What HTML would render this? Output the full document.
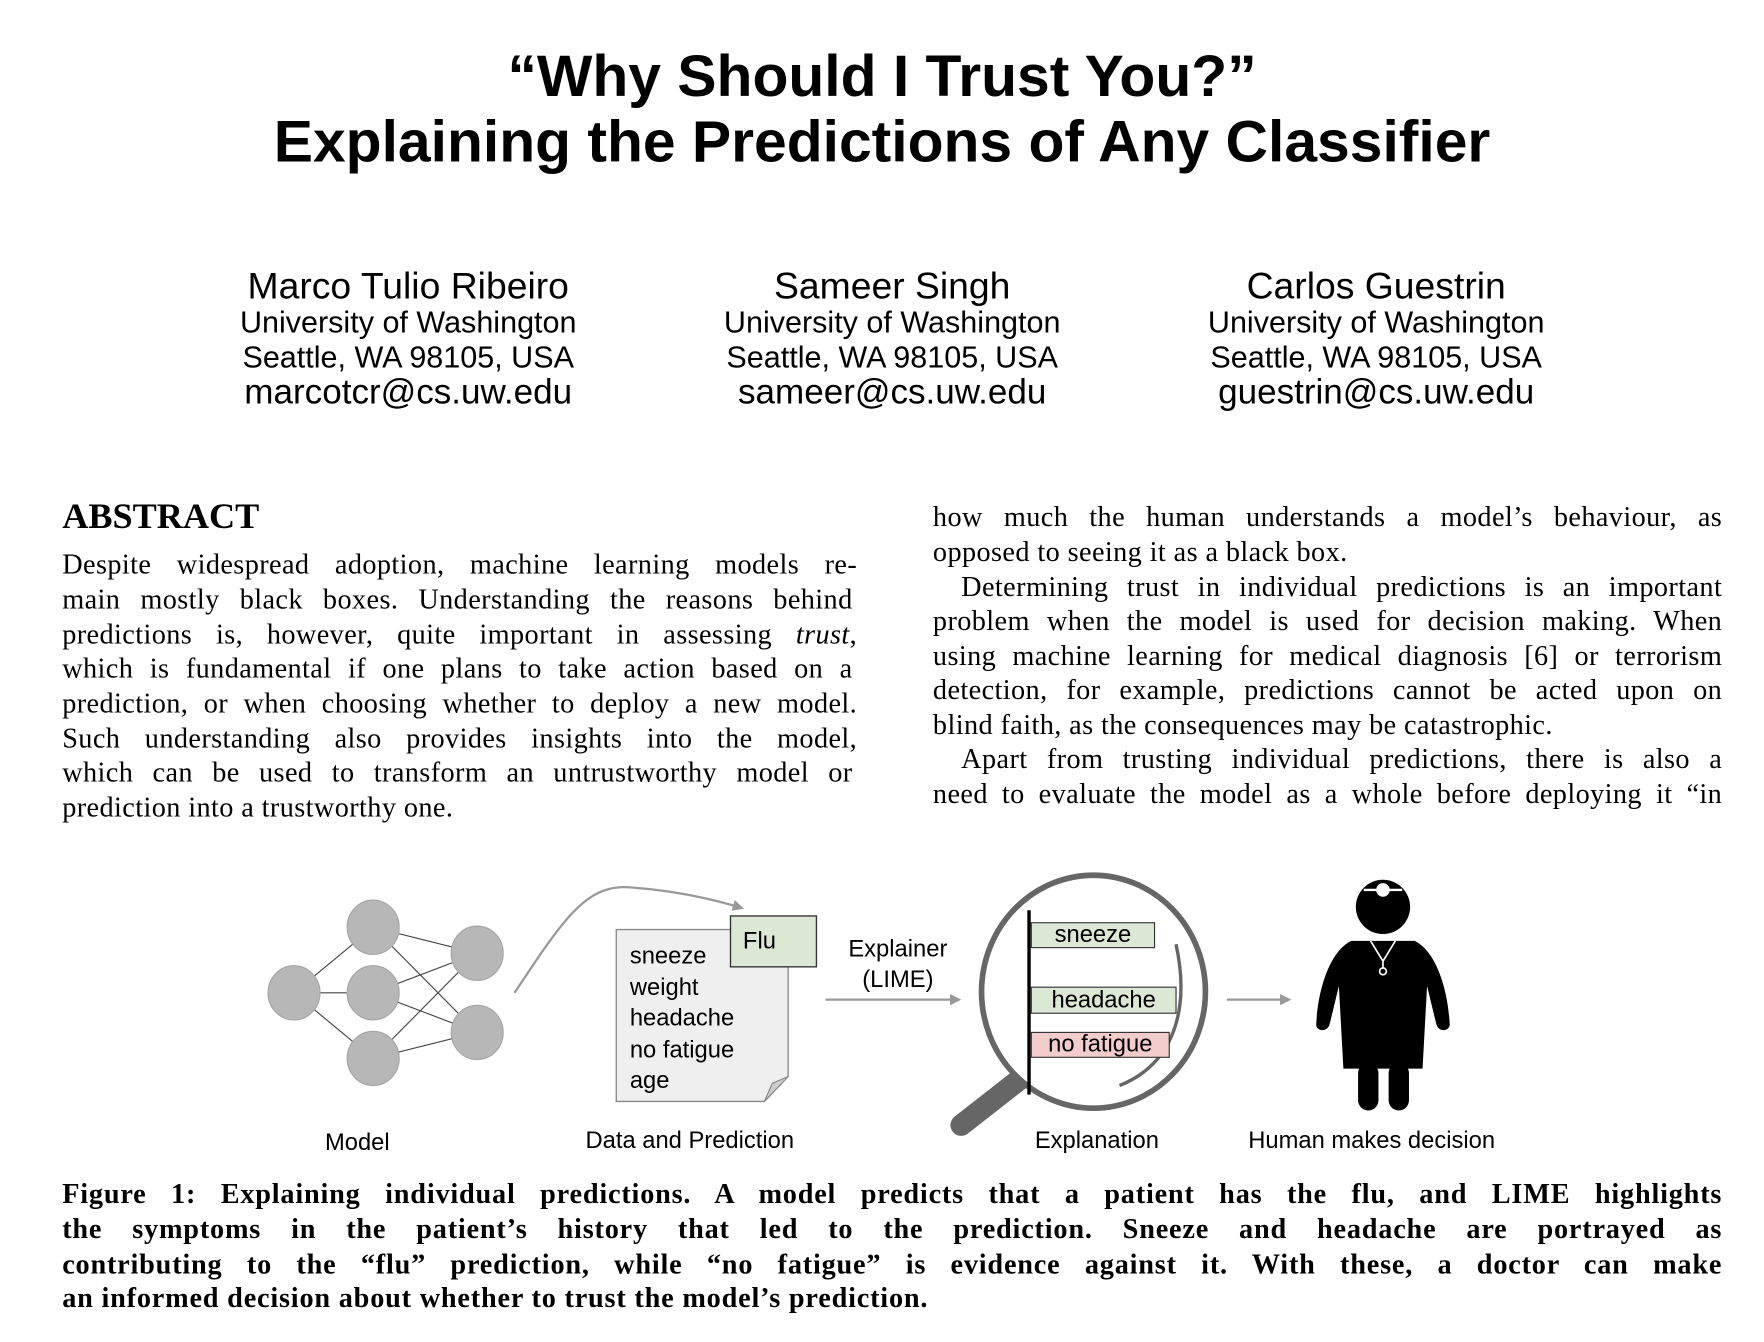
<!DOCTYPE html>
<html><head><meta charset="utf-8">
<style>
html,body{margin:0;padding:0;background:#fff;}
body{width:1764px;height:1342px;overflow:hidden;position:relative;}
#w{position:absolute;left:0;top:0;width:1560px;height:1187px;transform:scale(1.1308);transform-origin:0 0;}
.a{position:absolute;white-space:nowrap;}
.t{font-family:"Liberation Sans",sans-serif;font-weight:bold;font-size:52px;width:1560px;text-align:center;left:0;color:#000;}
.au{font-family:"Liberation Sans",sans-serif;text-align:center;width:420px;}
.ln{position:absolute;font-family:"Liberation Serif",serif;font-size:25px;letter-spacing:0.35px;text-align:justify;text-align-last:justify;white-space:nowrap;}
.sl{font-family:"Liberation Sans",sans-serif;font-size:21px;}
.cap{font-family:"Liberation Serif",serif;font-weight:bold;font-size:25px;letter-spacing:0.7px;}
</style></head><body><div id="w">
<div class="a t" style="top:38px;">“Why Should I Trust You?”</div>
<div class="a t" style="top:96px;">Explaining the Predictions of Any Classifier</div>

<div class="a au" style="left:151px;top:236px;"><div style="font-size:33px;line-height:34px">Marco Tulio Ribeiro</div><div style="font-size:27px;line-height:31px">University of Washington<br>Seattle, WA 98105, USA</div><div style="font-size:31px;line-height:30px">marcotcr@cs.uw.edu</div></div>
<div class="a au" style="left:579px;top:236px;"><div style="font-size:33px;line-height:34px">Sameer Singh</div><div style="font-size:27px;line-height:31px">University of Washington<br>Seattle, WA 98105, USA</div><div style="font-size:31px;line-height:30px">sameer@cs.uw.edu</div></div>
<div class="a au" style="left:1007px;top:236px;"><div style="font-size:33px;line-height:34px">Carlos Guestrin</div><div style="font-size:27px;line-height:31px">University of Washington<br>Seattle, WA 98105, USA</div><div style="font-size:31px;line-height:30px">guestrin@cs.uw.edu</div></div>

<div class="a" style="left:55px;top:438px;font-family:'Liberation Serif',serif;font-weight:bold;font-size:32px;">ABSTRACT</div>
<div style="position:absolute;left:0;top:0;width:800px;height:728px;overflow:hidden;">
<div class="ln" style="left:55px;top:486px;width:703px;">Despite widespread adoption, machine learning models re-</div>
<div class="ln" style="left:55px;top:517px;width:699px;">main mostly black boxes. Understanding the reasons behind</div>
<div class="ln" style="left:55px;top:548px;width:703px;">predictions is, however, quite important in assessing <i>trust</i>,</div>
<div class="ln" style="left:55px;top:578px;width:699px;">which is fundamental if one plans to take action based on a</div>
<div class="ln" style="left:55px;top:609px;width:703px;">prediction, or when choosing whether to deploy a new model.</div>
<div class="ln" style="left:55px;top:640px;width:703px;">Such understanding also provides insights into the model,</div>
<div class="ln" style="left:55px;top:670px;width:699px;">which can be used to transform an untrustworthy model or</div>
<div class="ln" style="left:55px;top:701px;width:auto;text-align:left;">prediction into a trustworthy one.</div>
</div>
<div style="position:absolute;left:0;top:0;width:1560px;height:722px;overflow:hidden;">
<div class="ln" style="left:825px;top:444px;width:698px;">how much the human understands a model’s behaviour, as</div>
<div class="ln" style="left:825px;top:475px;width:auto;text-align:left;">opposed to seeing it as a black box.</div>
<div class="ln" style="left:850px;top:506px;width:673px;">Determining trust in individual predictions is an important</div>
<div class="ln" style="left:825px;top:536px;width:698px;">problem when the model is used for decision making. When</div>
<div class="ln" style="left:825px;top:567px;width:698px;">using machine learning for medical diagnosis [6] or terrorism</div>
<div class="ln" style="left:825px;top:597px;width:698px;">detection, for example, predictions cannot be acted upon on</div>
<div class="ln" style="left:825px;top:628px;width:auto;text-align:left;">blind faith, as the consequences may be catastrophic.</div>
<div class="ln" style="left:850px;top:658px;width:673px;">Apart from trusting individual predictions, there is also a</div>
<div class="ln" style="left:825px;top:689px;width:698px;">need to evaluate the model as a whole before deploying it “in</div>
</div>

<svg style="position:absolute;left:0;top:0" width="1560" height="1187">
<defs><marker id="ar" markerWidth="10" markerHeight="10" refX="8" refY="5" orient="auto" markerUnits="userSpaceOnUse"><path d="M0,0 L10,5 L0,10 Z" fill="#999"/></marker></defs>
<g stroke="#444" stroke-width="1">
<line x1="260" y1="878" x2="330" y2="820"/><line x1="260" y1="878" x2="330" y2="878"/><line x1="260" y1="878" x2="330" y2="936"/>
<line x1="330" y1="820" x2="422" y2="843"/><line x1="330" y1="820" x2="422" y2="913"/>
<line x1="330" y1="878" x2="422" y2="843"/><line x1="330" y1="878" x2="422" y2="913"/>
<line x1="330" y1="936" x2="422" y2="843"/><line x1="330" y1="936" x2="422" y2="913"/>
</g>
<g fill="#b7b7b7" stroke="#a5a5a5" stroke-width="1">
<ellipse cx="260" cy="878" rx="23" ry="24"/><ellipse cx="330" cy="820" rx="23" ry="24"/><ellipse cx="330" cy="878" rx="23" ry="24"/><ellipse cx="330" cy="936" rx="23" ry="24"/><ellipse cx="422" cy="843" rx="23" ry="24"/><ellipse cx="422" cy="913" rx="23" ry="24"/>
</g>
<path d="M455,878 C500,810 520,780 560,785 C600,788 630,795 656,803" fill="none" stroke="#999" stroke-width="2" marker-end="url(#ar)"/>
<path d="M545,822 H697 V952 L676,974 H545 Z" fill="#efefef" stroke="#888" stroke-width="1.2"/>
<path d="M676,974 L683,958 L697,952 Z" fill="#ccc" stroke="#888" stroke-width="1"/>
<rect x="646" y="810" width="76" height="45" fill="#dbe8d4" stroke="#333" stroke-width="1.2"/>
<line x1="730" y1="884" x2="848" y2="884" stroke="#999" stroke-width="2" marker-end="url(#ar)"/>
<line x1="1085" y1="884" x2="1140" y2="884" stroke="#999" stroke-width="2" marker-end="url(#ar)"/>
<line x1="905" y1="952" x2="850" y2="995" stroke="#666" stroke-width="19" stroke-linecap="round"/>
<ellipse cx="967" cy="877" rx="99" ry="103" fill="#fff" stroke="#666" stroke-width="5"/>
<path d="M1040,835 C1052,890 1040,940 990,960" fill="none" stroke="#666" stroke-width="3"/>
<rect x="912" y="816" width="109" height="22" fill="#dbe8d4" stroke="#333" stroke-width="1"/>
<rect x="912" y="873" width="128" height="23" fill="#dbe8d4" stroke="#333" stroke-width="1"/>
<rect x="912" y="913" width="122" height="22" fill="#f3cccc" stroke="#333" stroke-width="1"/>
<line x1="910" y1="805" x2="910" y2="968" stroke="#000" stroke-width="3"/>
<g fill="#000">
<circle cx="1223" cy="802" r="24"/>
<path d="M1195,832 H1251 C1268,840 1280,870 1282,905 C1283,912 1272,914 1270,905 L1262,872 L1258,945 H1188 L1184,872 L1176,905 C1174,914 1163,912 1164,905 C1166,870 1178,840 1195,832 Z"/>
<rect x="1201" y="940" width="18" height="42" rx="9"/><rect x="1228" y="940" width="18" height="42" rx="9"/>
</g>
<path d="M1206,787 H1240" stroke="#fff" stroke-width="2"/>
<circle cx="1223" cy="787" r="6" fill="#fff"/>
<path d="M1212,832 L1223,850 L1234,832 M1223,850 V856" fill="none" stroke="#fff" stroke-width="1.5"/>
<circle cx="1223" cy="859" r="3" fill="none" stroke="#fff" stroke-width="1.5"/>
</svg>
<div class="a sl" style="left:657px;top:821px;">Flu</div>
<div class="a sl" style="left:557px;top:832px;line-height:27.5px;">sneeze<br>weight<br>headache<br>no fatigue<br>age</div>
<div class="a sl" style="left:744px;top:826px;width:100px;text-align:center;line-height:27px;">Explainer<br>(LIME)</div>
<div class="a sl" style="left:912px;top:815px;width:109px;text-align:center;">sneeze</div>
<div class="a sl" style="left:912px;top:873px;width:128px;text-align:center;">headache</div>
<div class="a sl" style="left:912px;top:912px;width:122px;text-align:center;">no fatigue</div>
<div class="a sl" style="left:216px;top:999px;width:200px;text-align:center;">Model</div>
<div class="a sl" style="left:460px;top:997px;width:300px;text-align:center;">Data and Prediction</div>
<div class="a sl" style="left:870px;top:997px;width:200px;text-align:center;">Explanation</div>
<div class="a sl" style="left:1063px;top:997px;width:300px;text-align:center;">Human makes decision</div>

<div class="ln cap" style="left:55px;top:1043px;width:1468px;">Figure 1: Explaining individual predictions. A model predicts that a patient has the flu, and LIME highlights</div>
<div class="ln cap" style="left:55px;top:1074px;width:1468px;">the symptoms in the patient’s history that led to the prediction. Sneeze and headache are portrayed as</div>
<div class="ln cap" style="left:55px;top:1105px;width:1468px;">contributing to the “flu” prediction, while “no fatigue” is evidence against it. With these, a doctor can make</div>
<div class="ln cap" style="left:55px;top:1135px;width:auto;text-align:left;">an informed decision about whether to trust the model’s prediction.</div>
</div></body></html>
